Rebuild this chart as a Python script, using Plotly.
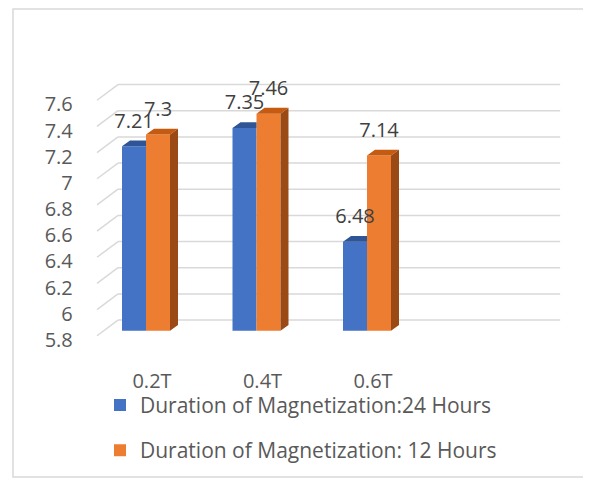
import plotly.graph_objects as go

# ---- data ----
categories = ["0.2T", "0.4T", "0.6T"]
series_names = ["Duration of Magnetization:24 Hours", "Duration of Magnetization: 12 Hours"]
values_24h = [7.21, 7.35, 6.48]
values_12h = [7.30, 7.46, 7.14]
y_ticks = [5.8, 6.0, 6.2, 6.4, 6.6, 6.8, 7.0, 7.2, 7.4, 7.6]
y_ticktext = ["5.8", "6", "6.2", "6.4", "6.6", "6.8", "7", "7.2", "7.4", "7.6"]

# ---- layout geometry (pixels, page coordinates; page body has 8px margin) ----
OFF = 8
W, H = 591 - OFF, 489 - OFF
cat0_px = 146.0 - OFF    # pixel x of category 0 (boundary between the two bars)
cat_step_px = 110.5      # pixels per category
ybase_px = 337.0 - OFF   # pixel y of value 5.8
y_unit_px = 133.33       # pixels per 1.0 value
x_rng = [-0.5, 3.75]
y_rng = [5.7, 7.85]
y_base = 5.8

def px_to_x(px):
    return (px - OFF - cat0_px) / cat_step_px

x_left_px = cat0_px + x_rng[0] * cat_step_px
x_right_px = cat0_px + x_rng[1] * cat_step_px
y_bot_px = ybase_px + (y_base - y_rng[0]) * y_unit_px
y_top_px = ybase_px - (y_rng[1] - y_base) * y_unit_px

bar_w = 24.0 / cat_step_px          # bar width in data units
dx = 8.0 / cat_step_px              # depth offset x (data)
dy = 6.0 / y_unit_px                # depth offset y (data)
lbl_dy = 24.0 / y_unit_px           # label offset

BLUE, BLUE_TOP = "#4472C4", "#2F5597"
ORANGE, ORANGE_TOP, ORANGE_SIDE = "#ED7D31", "#C55A11", "#9C4A15"
GRID = "#D9D9D9"
TXT = "#595959"
FONT = "Open Sans, Carlito, Calibri, sans-serif"
FS = 20

xs = list(range(len(categories)))
fig = go.Figure()

fig.add_trace(go.Bar(
    x=xs, y=[v - y_base for v in values_24h], base=y_base,
    width=bar_w, offset=-bar_w, marker=dict(color=BLUE, line=dict(width=0)),
    name=series_names[0], legendgroup="a", hoverinfo="skip"))
fig.add_trace(go.Bar(
    x=xs, y=[v - y_base for v in values_12h], base=y_base,
    width=bar_w, offset=0, marker=dict(color=ORANGE, line=dict(width=0)),
    name=series_names[1], legendgroup="b", hoverinfo="skip"))

# 3D tops / sides derived from the data
bx, by = [], []
for i, (v1, v2) in enumerate(zip(values_24h, values_12h)):
    xl, xr = i - bar_w, i
    bx += [xl, xr, xr, xl + dx, xl, None]
    by += [v1, v1, v1 + dy, v1 + dy, v1, None]
fig.add_trace(go.Scatter(x=bx, y=by, fill="toself", fillcolor=BLUE_TOP, mode="none",
                         showlegend=False, hoverinfo="skip"))
ox, oy, sx, sy = [], [], [], []
for i, v in enumerate(values_12h):
    xl, xr = i, i + bar_w
    ox += [xl, xr, xr + dx, xl + dx, xl, None]
    oy += [v, v, v + dy, v + dy, v, None]
    sx += [xr, xr + dx, xr + dx, xr, xr, None]
    sy += [v, v + dy, y_base + dy, y_base, v, None]
fig.add_trace(go.Scatter(x=ox, y=oy, fill="toself", fillcolor=ORANGE_TOP, mode="none",
                         showlegend=False, hoverinfo="skip"))
fig.add_trace(go.Scatter(x=sx, y=sy, fill="toself", fillcolor=ORANGE_SIDE, mode="none",
                         showlegend=False, hoverinfo="skip"))

# data labels
fig.add_trace(go.Scatter(
    x=[i - bar_w / 2 for i in xs] + [i + bar_w / 2 for i in xs],
    y=[v + lbl_dy for v in values_24h] + [v + lbl_dy for v in values_12h],
    text=[f"{v:g}" for v in values_24h] + [f"{v:g}" for v in values_12h],
    mode="text", textposition="middle center",
    textfont=dict(family=FONT, size=FS, color="#404040"),
    showlegend=False, hoverinfo="skip", cliponaxis=False))

# back-wall gridlines with perspective stubs
shapes = []
back_x = px_to_x(118)
front_x = px_to_x(97)
back_up = 11.0 / y_unit_px
front_dn = 5.0 / y_unit_px
for t in y_ticks:
    shapes.append(dict(type="line", xref="x", yref="y", x0=back_x, x1=x_rng[1],
                       y0=t + back_up, y1=t + back_up, line=dict(color=GRID, width=1.5), layer="below"))
    shapes.append(dict(type="line", xref="x", yref="y", x0=front_x, x1=back_x,
                       y0=t - front_dn, y1=t + back_up, line=dict(color=GRID, width=1.5), layer="below"))
# outer chart border
shapes.append(dict(type="rect", xref="paper", yref="paper",
                   x0=(13 - OFF) / W, x1=(587 - OFF) / W,
                   y0=1 - (486 - OFF) / H, y1=1 - (9 - OFF) / H,
                   line=dict(color=GRID, width=1.5), layer="below"))

fig.update_layout(
    width=W, height=H, margin=dict(l=0, r=0, t=0, b=0),
    paper_bgcolor="white", plot_bgcolor="rgba(0,0,0,0)",
    font=dict(family=FONT, size=FS, color=TXT),
    shapes=shapes,
    xaxis=dict(domain=[x_left_px / W, x_right_px / W], range=x_rng,
               tickvals=xs, ticktext=categories, showgrid=False, zeroline=False,
               showline=False, ticks="", ticklabelstandoff=23, ticklabelshift=6,
               tickfont=dict(family=FONT, size=FS, color=TXT)),
    yaxis=dict(domain=[1 - y_bot_px / H, 1 - y_top_px / H], range=y_rng,
               tickvals=y_ticks, ticktext=y_ticktext, showgrid=False, zeroline=False,
               showline=False, ticks="", ticklabelstandoff=17, ticklabelshift=9,
               tickfont=dict(family=FONT, size=FS, color=TXT)),
    legend=dict(orientation="v", x=(100 - OFF) / W, xanchor="left", y=1 - (392 - OFF) / H,
                yanchor="top", traceorder="grouped", tracegroupgap=15,
                font=dict(family=FONT, size=21, color=TXT), bgcolor="rgba(0,0,0,0)"),
    showlegend=True,
)

fig.write_html("out.html")
